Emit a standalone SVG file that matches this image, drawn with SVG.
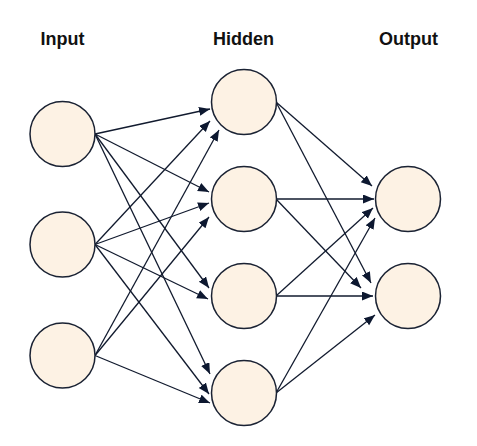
<svg xmlns="http://www.w3.org/2000/svg" width="477" height="446" viewBox="0 0 477 446">
<defs>
<style>
.node circle{fill:#fdf2e4;stroke:#1a2233;stroke-width:1.5}
.lbl{font-family:"Liberation Sans",Arial,sans-serif;font-size:18px;font-weight:bold;fill:#111111;text-anchor:middle}
#edges line{stroke:#111a2e;stroke-width:1.3;marker-end:url(#arr)}
</style>
<marker id="arr" markerUnits="userSpaceOnUse" markerWidth="12" markerHeight="10" refX="11" refY="4.5" orient="auto">
<path d="M0,0 L11,4.5 L0,9 Z" fill="#0d1830"/>
</marker>
</defs>
<rect width="477" height="446" fill="#ffffff"/>
<g id="labels">
<text class="lbl" x="62.5" y="45">Input</text>
<text class="lbl" x="243.5" y="45">Hidden</text>
<text class="lbl" x="408.5" y="45">Output</text>
</g>
<g id="edges">
<line x1="95" y1="134" x2="210" y2="109"/>
<line x1="95" y1="134" x2="209" y2="192"/>
<line x1="95" y1="134" x2="209" y2="288"/>
<line x1="95" y1="134" x2="210" y2="374"/>
<line x1="95" y1="244.5" x2="210" y2="121"/>
<line x1="95" y1="244.5" x2="209" y2="203"/>
<line x1="95" y1="244.5" x2="208" y2="299"/>
<line x1="95" y1="244.5" x2="209" y2="394"/>
<line x1="95" y1="355.5" x2="219" y2="130"/>
<line x1="95" y1="355.5" x2="209" y2="217"/>
<line x1="95" y1="355.5" x2="210" y2="403"/>
<line x1="276" y1="102" x2="372" y2="186"/>
<line x1="276" y1="102" x2="371" y2="283"/>
<line x1="276" y1="199" x2="374" y2="199"/>
<line x1="276" y1="199" x2="361" y2="288"/>
<line x1="276" y1="296" x2="373" y2="208"/>
<line x1="276" y1="296" x2="373" y2="296"/>
<line x1="276" y1="393" x2="375" y2="218"/>
<line x1="276" y1="393" x2="375" y2="315"/>
</g>
<g id="in1" class="node"><circle cx="62.5" cy="134" r="32.5"/></g>
<g id="in2" class="node"><circle cx="62.5" cy="244.5" r="32.5"/></g>
<g id="in3" class="node"><circle cx="62.5" cy="355.5" r="32.5"/></g>
<g id="h1" class="node"><circle cx="244" cy="102" r="32.5"/></g>
<g id="h2" class="node"><circle cx="244" cy="199" r="32.5"/></g>
<g id="h3" class="node"><circle cx="244" cy="296" r="32.5"/></g>
<g id="h4" class="node"><circle cx="244" cy="393" r="32.5"/></g>
<g id="out1" class="node"><circle cx="408" cy="199" r="32.5"/></g>
<g id="out2" class="node"><circle cx="408" cy="296" r="32.5"/></g>
</svg>
